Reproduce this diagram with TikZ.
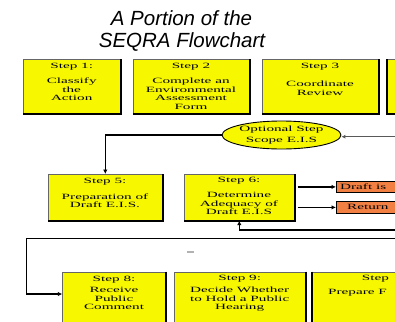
\documentclass[tikz,border=0pt]{standalone}
\usepackage{fontspec}
\usetikzlibrary{arrows.meta,shapes.geometric}
\newfontfamily\titlefont{Liberation Sans}
\newfontfamily\boxfont[FakeStretch=1.9]{Liberation Serif}
\definecolor{boxyellow}{RGB}{247,247,0}
\definecolor{boxorange}{RGB}{242,128,66}
\begin{document}
\begin{tikzpicture}[x=1pt,y=-1pt,
  ybox/.style={draw=black!60, line width=0.6pt, fill=boxyellow, inner sep=0pt, anchor=north west},
  obox/.style={draw=black, line width=0.8pt, fill=boxorange, inner sep=0pt, anchor=north west},
  shadeedge/.style={line width=1.8pt, black},
  txt/.style={font={\boxfont\fontsize{8}{8.5}\selectfont}, align=center, inner sep=0pt, anchor=north},
  ltxt/.style={font={\boxfont\fontsize{8}{8.5}\selectfont}, inner sep=0pt, anchor=west},
  arr/.style={line width=1.4pt, -{Latex[length=4.5pt,width=4.5pt]}},
  thinarr/.style={line width=0.8pt, black!65, -{Latex[length=4pt,width=4pt]}},
  titletxt/.style={font={\titlefont\itshape\fontsize{20.5}{24}\selectfont}, anchor=base, inner sep=0pt}]
\useasboundingbox (0,0) rectangle (395,321);
\clip (0,0) rectangle (395,321);

% title
\node[titletxt] (t1) at (181.5,25.3) {A Portion of the};
\node[titletxt] (t2) at (182,47.5) {SEQRA Flowchart};

% top row
\node[ybox, minimum width=98pt, minimum height=54pt] (s1) at (22.7,59) {};
\node[ybox, minimum width=116pt, minimum height=54pt] (s2) at (133,59) {};
\node[ybox, minimum width=116pt, minimum height=54pt] (s3) at (262,59) {};
\node[ybox, minimum width=116pt, minimum height=54pt] (s4) at (387,59) {};
\draw[shadeedge] (s1.north east) -- (s1.south east) -- (s1.south west);
\draw[shadeedge] (s2.north east) -- (s2.south east) -- (s2.south west);
\draw[shadeedge] (s3.north east) -- (s3.south east) -- (s3.south west);
\draw[shadeedge] (s4.north west) -- (s4.south west) -- (s4.south east);
\node[txt] (s1t) at (71.7,63.2) {Step 1:\\[6.6pt]Classify\\the\\Action};
\node[txt] (s2t) at (191,62.9) {Step 2\\[7pt]Complete an\\Environmental\\Assessment\\Form};
\node[txt] (s3t) at (320,62.9) {Step 3\\[9.8pt]Coordinate\\Review};

% optional step
\node[ellipse, draw=black, line width=0.9pt, fill=boxyellow, minimum width=117pt, minimum height=28pt, inner sep=0pt,
      align=center, font={\boxfont\fontsize{8}{10.5}\selectfont}] (opt) at (281.5,135) {Optional Step\\Scope E.I.S};

% middle row
\node[ybox, minimum width=114.6pt, minimum height=46pt] (s5) at (47.7,174) {};
\node[ybox, minimum width=110pt, minimum height=46pt] (s6) at (184,174) {};
\draw[shadeedge] (s5.north east) -- (s5.south east) -- (s5.south west);
\draw[shadeedge] (s6.north east) -- (s6.south east) -- (s6.south west);
\node[txt] (s5t) at (105,177.9) {Step 5:\\[7.5pt]Preparation of\\Draft E.I.S.};
\node[txt] (s6t) at (239,177.2) {Step 6:\\[6.5pt]Determine\\Adequacy of\\Draft E.I.S};

\node[obox, minimum width=120pt, minimum height=11pt] (d1) at (336,181) {};
\node[obox, minimum width=120pt, minimum height=12pt] (d2) at (336,201) {};
\node[ltxt] (d1t) at (340,186.3) {Draft is};
\node[ltxt] (d2t) at (347,207) {Return};

% bottom row
\node[ybox, minimum width=103.4pt, minimum height=63pt] (s8) at (62.3,271.7) {};
\node[ybox, minimum width=130.7pt, minimum height=63pt] (s9) at (174.3,271.7) {};
\node[ybox, minimum width=130pt, minimum height=63pt] (s10) at (311.7,271.7) {};
\draw[shadeedge] (s8.north east) -- (s8.south east);
\draw[shadeedge] (s9.north east) -- (s9.south east);
\draw[shadeedge] (s10.north west) -- (s10.south west);
\node[txt] (s8t) at (114,276.2) {Step 8:\\[2.5pt]Receive\\Public\\Comment};
\node[txt] (s9t) at (239.7,274.9) {Step 9:\\[4pt]Decide Whether\\to Hold a Public\\Hearing};
\node[ltxt] (s10a) at (361.7,279) {Step};
\node[ltxt] (s10b) at (328,292.7) {Prepare F};

% connectors
\coordinate (rin) at (395,136.7);
\draw[thinarr] (rin) -- (rin -| opt.east);
\draw[arr] (opt.west) -| (s5.north);
\draw[arr] ([xshift=3pt]s6.east |- d1.west) -- (d1.west);
\draw[arr] ([xshift=3pt]s6.east |- d2.west) -- (d2.west);
\coordinate (rret) at (395,230);
\draw[arr] (rret) -| (s6.south);
\coordinate (rlong) at (395,238.3);
\coordinate (bend) at (26.7,294);
\draw[arr] (rlong) -| (bend) -- (s8.west |- bend);

\fill[black!30] (187,251) rectangle (194,253);
\end{tikzpicture}
\end{document}
